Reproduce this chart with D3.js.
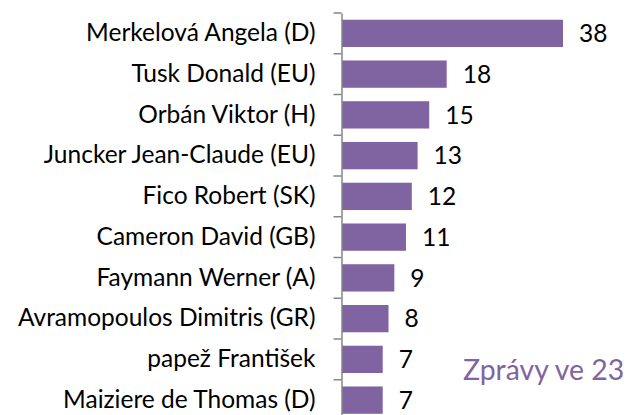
<!DOCTYPE html>
<html><head><meta charset="utf-8">
<script src="https://cdn.jsdelivr.net/npm/d3@7"></script>
<style>body{margin:0;background:#fff;overflow:hidden}</style>
</head><body><svg id="c" width="627" height="415"></svg>
<script>
const categories = ["Merkelová Angela (D)","Tusk Donald (EU)","Orbán Viktor (H)","Juncker Jean-Claude (EU)","Fico Robert (SK)","Cameron David (GB)","Faymann Werner (A)","Avramopoulos Dimitris (GR)","papež František","Maiziere de Thomas (D)"];
const values = [38,18,15,13,12,11,9,8,7,7];
const note = "Zprávy ve 23";

const svg = d3.select("#c");
const font = "Lato, 'Open Sans', sans-serif";
const y = d3.scaleBand().domain(categories).range([13, 420.5]).paddingInner(0.33).paddingOuter(0.165);
const x = d3.scaleLinear().domain([0, 38]).range([342, 563]);
const axisX = 341.5;

// bars
svg.append("g").selectAll("rect").data(values).join("rect")
  .attr("x", x(0)).attr("y", (d,i)=>y(categories[i]))
  .attr("width", d=>x(d)-x(0)).attr("height", y.bandwidth())
  .attr("fill", "#8064A2");

// axis
const ax = svg.append("g").attr("transform", `translate(${axisX},0)`)
  .call(d3.axisLeft(y).tickSize(0).tickPadding(26));
ax.select(".domain").attr("stroke", "#868686").attr("stroke-width", 1.5);
ax.selectAll("text").attr("font-family", font).attr("font-size", 24.5).attr("fill", "#000");
// boundary ticks
const bounds = d3.range(categories.length + 1).map(i => y.range()[0] + i * y.step());
svg.append("g").selectAll("line").data(bounds).join("line")
  .attr("x1", axisX - 8).attr("x2", axisX).attr("y1", d=>d).attr("y2", d=>d)
  .attr("stroke", "#868686").attr("stroke-width", 1.5);

// value labels
svg.append("g").selectAll("text").data(values).join("text")
  .attr("x", d=>x(d)+16).attr("y", (d,i)=>y(categories[i])+y.bandwidth()/2)
  .attr("dy", "0.36em").attr("font-family", font).attr("font-size", 24.5).attr("fill", "#000")
  .text(d=>d);

svg.append("text").attr("x", 463).attr("y", 380).attr("font-family", font)
  .attr("font-size", 28.4).attr("fill", "#8064A2").text(note);
</script></body></html>
